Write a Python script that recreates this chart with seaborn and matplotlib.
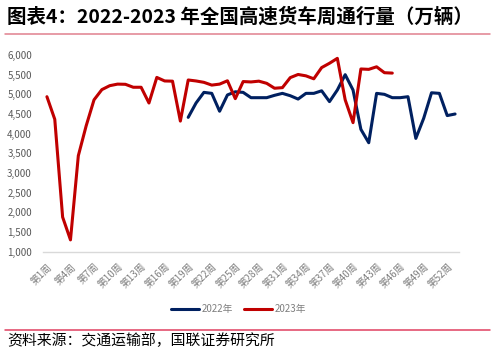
import numpy as np
import pandas as pd
import matplotlib
matplotlib.use("Agg")
import matplotlib.pyplot as plt
from matplotlib.lines import Line2D
import seaborn as sns

# ---- data ----
weeks = list(range(1, 54))
tick_weeks = list(range(1, 53, 3))
tick_labels = [f"第{w}周" for w in tick_weeks]

y2023_weeks = list(range(1, 46))
y2023 = [4940, 4365, 1880, 1300, 3440, 4200, 4860, 5120, 5220, 5260,
         5255, 5180, 5180, 4780, 5430, 5340, 5335, 4320, 5365, 5340,
         5305, 5235, 5260, 5345, 4890, 5325, 5315, 5335, 5280, 5155,
         5170, 5425, 5505, 5470, 5395, 5680, 5790, 5915, 4860, 4280,
         5645, 5635, 5700, 5550, 5540]

y2022_weeks = list(range(19, 54))
y2022 = [4415, 4780, 5050, 5025, 4570, 4985, 5065, 5050, 4915, 4915,
         4915, 4975, 5025, 4965, 4880, 5025, 5025, 5090, 4815, 5110,
         5500, 5110, 4110, 3770, 5025, 5000, 4915, 4915, 4940, 3880,
         4390, 5040, 5025, 4460, 4500]

series_names = ["2022年", "2023年"]
colors = ["#002060", "#C00000"]

df = pd.concat([
    pd.DataFrame({"week": y2022_weeks, "value": y2022, "series": series_names[0]}),
    pd.DataFrame({"week": y2023_weeks, "value": y2023, "series": series_names[1]}),
], ignore_index=True)

# ---- figure ----
sns.set_theme(style="white")
plt.rcParams["font.family"] = ["Noto Sans CJK SC", "DejaVu Sans"]

fig = plt.figure(figsize=(4.95, 3.54), dpi=100)
ax = fig.add_axes([43/495, 1-251.7/354, (459-43)/495, (251.7-55)/354])

sns.lineplot(data=df, x="week", y="value", hue="series",
             palette=dict(zip(series_names, colors)), hue_order=series_names,
             linewidth=2.2, ax=ax, legend=False)

ax.set_xlim(0.5, 53.5)
ax.set_ylim(1000, 6000)
ax.set_yticks(np.arange(1000, 6001, 500))
ax.set_yticklabels([f"{v:,}" for v in range(1000, 6001, 500)])
ax.set_xticks(tick_weeks)
ax.set_xticklabels(tick_labels, rotation=45, ha="right", rotation_mode="anchor")
ax.set_xlabel("")
ax.set_ylabel("")

for s in ["top", "right", "left"]:
    ax.spines[s].set_visible(False)
ax.spines["bottom"].set_color("#D9D9D9")
ax.spines["bottom"].set_linewidth(1.0)
ax.tick_params(axis="y", length=0, pad=8, labelsize=7, labelcolor="#595959")
ax.tick_params(axis="x", length=0, pad=7, labelsize=7, labelcolor="#7F7F7F")

# legend
handles = [Line2D([0], [0], color=c, lw=2.2) for c in colors]
fig.legend(handles, series_names, loc="center", bbox_to_anchor=(238.5/495, 1-309/354),
           ncol=2, frameon=False, fontsize=7, labelcolor="#7F7F7F",
           handlelength=2.9, handletextpad=0.2, columnspacing=1.2)

# title and rules
fig.text(7/495, 1-17/354, "图表4：2022-2023 年全国高速货车周通行量（万辆）",
         fontsize=14, fontweight="bold", color="black", va="center", ha="left")
fig.add_artist(Line2D([5/495, 490/495], [1-33.5/354, 1-33.5/354],
                      transform=fig.transFigure, color="#E0808E", lw=1.1))
fig.add_artist(Line2D([5/495, 490/495], [1-330/354, 1-330/354],
                      transform=fig.transFigure, color="#E04060", lw=1.1))
fig.text(7/495, 1-341/354, "资料来源：交通运输部，国联证券研究所",
         fontsize=10.7, color="black", va="center", ha="left")

fig.savefig("out.png", dpi=100)
